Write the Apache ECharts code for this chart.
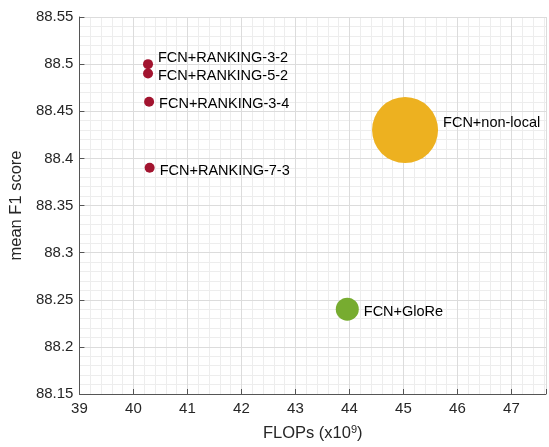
<!DOCTYPE html>
<html>
<head>
<meta charset="utf-8">
<script src="https://cdn.jsdelivr.net/npm/echarts@6/dist/echarts.min.js"></script>
<style>
    html, body { margin: 0; padding: 0; background: #fff; }
    #chart { width: 549px; height: 447px; }
</style>
</head>
<body>
<div id="chart"></div>
<script>
// 数据
const modelNames = ['FCN+RANKING-3-2', 'FCN+RANKING-5-2', 'FCN+RANKING-3-4', 'FCN+RANKING-7-3', 'FCN+non-local', 'FCN+GloRe'];
const flops = [40.27, 40.27, 40.29, 40.30, 45.03, 43.96];
const meanF1 = [88.50, 88.49, 88.46, 88.39, 88.43, 88.24];
const bubbleSize = [10, 10, 10, 10, 66, 23];

// 样式
const pointColors = ['#A2142F', '#A2142F', '#A2142F', '#A2142F', '#EDB120', '#77AC30'];
const labelShiftY = [-6, 2, 2, 3, -7, 3];

const font = 'Liberation Sans, Arial, Helvetica, sans-serif';
const xMin = 39, xMax = 47.64;
const yMin = 88.15, yMax = 88.55;

const chart = echarts.init(document.getElementById('chart'));

const hiddenAxisParts = {
    axisLine: { show: false },
    axisTick: { show: false },
    axisLabel: { show: false }
};

const option = {
    animation: false,
    grid: { left: 77, right: 0, top: 17, bottom: 50 },
    xAxis: [
        {
            type: 'value',
            min: xMin,
            max: xMax,
            interval: 1,
            z: 1,
            name: 'FLOPs (x10{sup|9})',
            nameLocation: 'middle',
            nameGap: 30,
            nameTextStyle: {
                fontFamily: font,
                fontSize: 16.5,
                color: '#262626',
                rich: {
                    sup: { fontFamily: font, fontSize: 11, color: '#262626', verticalAlign: 'top', padding: [0, 0, 8, 0] }
                }
            },
            axisLine: { show: true, onZero: false, lineStyle: { color: '#555', width: 1 } },
            axisTick: { show: true, inside: true, length: 5, lineStyle: { color: '#555' } },
            axisLabel: {
                margin: 7,
                fontFamily: font,
                fontSize: 15,
                color: '#262626',
                formatter: v => (Math.abs(v - Math.round(v)) < 1e-6 ? String(Math.round(v)) : '')
            },
            splitLine: { show: true, lineStyle: { color: '#dcdcdc', width: 1 } }
        },
        Object.assign({
            type: 'value',
            min: xMin,
            max: xMax,
            interval: 0.2,
            z: 0,
            splitLine: { show: true, lineStyle: { color: '#ededed', width: 1 } }
        }, hiddenAxisParts)
    ],
    yAxis: [
        {
            type: 'value',
            min: yMin,
            max: yMax,
            interval: 0.05,
            z: 1,
            name: 'mean F1 score',
            nameLocation: 'middle',
            nameGap: 48,
            nameTextStyle: { fontFamily: font, fontSize: 16.5, color: '#262626' },
            axisLine: { show: true, onZero: false, lineStyle: { color: '#555', width: 1 } },
            axisTick: { show: true, inside: true, length: 5, lineStyle: { color: '#555' } },
            axisLabel: {
                margin: 6,
                fontFamily: font,
                fontSize: 15,
                color: '#262626',
                formatter: v => String(parseFloat(v.toFixed(2)))
            },
            splitLine: { show: true, lineStyle: { color: '#dcdcdc', width: 1 } }
        },
        Object.assign({
            type: 'value',
            min: yMin,
            max: yMax,
            interval: 0.01,
            z: 0,
            splitLine: { show: true, lineStyle: { color: '#ededed', width: 1 } }
        }, hiddenAxisParts)
    ],
    series: [
        {
            type: 'scatter',
            xAxisIndex: 0,
            yAxisIndex: 0,
            z: 3,
            data: modelNames.map((name, i) => ({
                name: name,
                value: [flops[i], meanF1[i]],
                symbolSize: bubbleSize[i],
                itemStyle: { color: pointColors[i], opacity: 1 },
                label: {
                    show: true,
                    position: 'right',
                    distance: 5,
                    offset: [0, labelShiftY[i]],
                    formatter: name,
                    fontFamily: font,
                    fontSize: 14.5,
                    color: '#000'
                }
            })),
            emphasis: { disabled: true }
        }
    ]
};

chart.setOption(option);
</script>
</body>
</html>
